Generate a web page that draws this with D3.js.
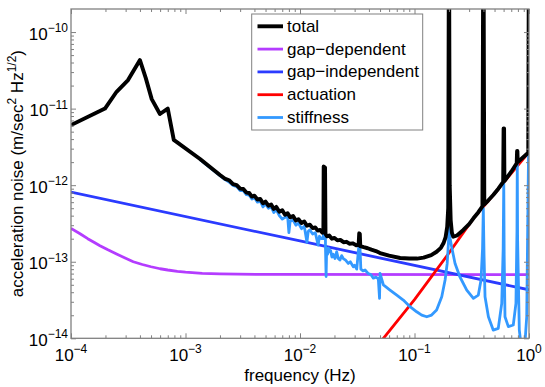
<!DOCTYPE html>
<html>
<head>
<meta charset="utf-8">
<script src="https://cdn.jsdelivr.net/npm/d3@7"></script>
<style>
body { margin: 0; background: #fff; }
svg { font-family: "Liberation Sans", Arial, Helvetica, sans-serif; }
</style>
</head>
<body>
<svg id="chart" width="545" height="387"></svg>
<script>
// total noise (black)
const totalF = [1e-4, 1.98e-4, 2.5e-4, 3.15e-4, 4.0e-4, 4.5e-4, 5.07e-4, 5.98e-4, 7.0e-4, 7.9e-4,
  1.34e-3, 2.0e-3, 2.2e-3, 2.4e-3, 2.6e-3, 2.8e-3, 3.0e-3, 3.2e-3, 3.4e-3, 3.6e-3, 3.8e-3,
  4.0e-3, 4.25e-3, 4.5e-3, 4.75e-3, 5.0e-3, 5.3e-3, 5.6e-3, 5.9e-3, 6.2e-3, 6.6e-3, 7.0e-3,
  7.4e-3, 7.8e-3, 8.2e-3, 8.7e-3, 9.2e-3, 9.7e-3, 1.03e-2, 1.09e-2, 1.15e-2, 1.22e-2, 1.29e-2,
  1.36e-2, 1.43e-2, 1.5e-2, 1.57e-2, 1.6e-2, 1.61e-2, 1.655e-2, 1.67e-2, 1.72e-2, 1.8e-2, 1.9e-2,
  2.0e-2, 2.12e-2, 2.25e-2, 2.4e-2, 2.55e-2, 2.7e-2, 2.9e-2, 3.1e-2, 3.25e-2, 3.29e-2, 3.33e-2,
  3.36e-2, 3.6e-2, 3.9e-2, 4.2e-2, 4.6e-2, 5.0e-2, 0.06, 0.075, 0.09, 0.105, 0.12, 0.14, 0.156,
  0.17, 0.179, 0.187, 0.193, 0.197, 0.1995, 0.2005, 0.203, 0.207, 0.212, 0.218, 0.235, 0.267,
  0.3, 0.327, 0.36, 0.392, 0.398, 0.401, 0.407, 0.44, 0.487, 0.54, 0.595, 0.6, 0.606, 0.61, 0.7,
  0.781, 0.787, 0.792, 0.797, 0.9, 0.985, 0.997];
const totalV = [6.1e-12, 1.0e-11, 1.66e-11, 2.36e-11, 4.3e-11, 2.5e-11, 1.33e-11, 8.5e-12, 1.0e-11, 3.9e-12,
  2.2e-12, 1.36e-12, 1.22e-12, 1.16e-12, 1.03e-12, 1.0e-12, 9.0e-13, 8.9e-13, 8.0e-13, 7.9e-13, 7.1e-13,
  7.3e-13, 6.5e-13, 6.6e-13, 5.8e-13, 6.1e-13, 5.4e-13, 5.6e-13, 4.9e-13, 5.2e-13, 4.5e-13, 4.7e-13,
  4.1e-13, 4.3e-13, 3.8e-13, 3.95e-13, 3.45e-13, 3.6e-13, 3.2e-13, 3.35e-13, 2.95e-13, 3.05e-13, 2.75e-13,
  2.8e-13, 2.55e-13, 2.6e-13, 2.4e-13, 2.45e-13, 1.75e-12, 1.7e-12, 2.3e-13, 2.15e-13, 2.2e-13, 2.0e-13,
  2.05e-13, 1.9e-13, 1.93e-13, 1.8e-13, 1.82e-13, 1.72e-13, 1.74e-13, 1.64e-13, 1.66e-13, 2.35e-13, 2.3e-13,
  1.6e-13, 1.55e-13, 1.5e-13, 1.44e-13, 1.38e-13, 1.3e-13, 1.2e-13, 1.12e-13, 1.1e-13, 1.1e-13, 1.13e-13, 1.22e-13, 1.35e-13,
  1.52e-13, 1.74e-13, 2.1e-13, 2.86e-13, 5e-13, 1e-9, 1e-9, 1e-12, 3.5e-13, 2.4e-13, 2.12e-13, 2.2e-13, 2.6e-13,
  3.1e-13, 3.69e-13, 4.4e-13, 5.3e-13, 1e-9, 1e-9, 5.6e-13, 6.3e-13, 7.43e-13, 9.0e-13, 1.1e-12, 5.5e-12, 5.5e-12, 1.13e-12, 1.5e-12,
  1.93e-12, 2.8e-12, 2.8e-12, 2.0e-12, 2.35e-12, 2.65e-12, 1e-9];

// stiffness (light blue)
const stiffF = [1.34e-3, 2.0e-3, 2.2e-3, 2.4e-3, 2.6e-3, 2.8e-3, 3.0e-3, 3.2e-3, 3.4e-3, 3.6e-3, 3.8e-3,
  4.0e-3, 4.25e-3, 4.5e-3, 4.75e-3, 5.0e-3, 5.3e-3, 5.6e-3, 5.9e-3, 6.2e-3, 6.6e-3, 7.0e-3, 7.4e-3,
  7.8e-3, 8.0e-3, 8.2e-3, 8.7e-3, 9.2e-3, 9.7e-3, 1.03e-2, 1.09e-2, 1.15e-2, 1.18e-2, 1.22e-2, 1.29e-2,
  1.36e-2, 1.44e-2, 1.48e-2, 1.54e-2, 1.6e-2, 1.61e-2, 1.655e-2, 1.67e-2, 1.69e-2, 1.71e-2, 1.74e-2, 1.77e-2,
  1.81e-2, 1.85e-2, 1.9e-2, 1.95e-2, 2.02e-2, 2.09e-2, 2.16e-2, 2.23e-2, 2.31e-2, 2.39e-2, 2.5e-2, 2.64e-2,
  2.75e-2, 2.92e-2, 3.0e-2, 3.13e-2, 3.29e-2, 3.33e-2, 3.4e-2, 3.55e-2, 3.7e-2, 3.95e-2, 4.15e-2, 4.37e-2,
  4.6e-2, 4.83e-2, 4.95e-2, 5.0e-2, 5.35e-2, 6.11e-2, 7.0e-2, 7.98e-2, 9.14e-2, 0.1045,
  0.1156, 0.128, 0.141, 0.156, 0.173, 0.185, 0.193, 0.198, 0.201, 0.205, 0.211, 0.226, 0.249, 0.286,
  0.327, 0.361, 0.381, 0.393, 0.399, 0.405, 0.413, 0.442, 0.487, 0.539, 0.578, 0.595, 0.602, 0.607,
  0.617, 0.66, 0.729, 0.769, 0.785, 0.79, 0.795, 0.823, 0.863, 0.913, 0.955, 0.99, 1.0];
const stiffV = [2.15e-12, 1.33e-12, 1.19e-12, 1.1e-12, 9.9e-13, 9.6e-13, 8.5e-13, 8.5e-13, 7.5e-13, 7.4e-13, 6.6e-13,
  6.9e-13, 6.0e-13, 6.2e-13, 5.2e-13, 5.7e-13, 5.0e-13, 5.2e-13, 4.4e-13, 4.8e-13, 4.0e-13, 3.6e-13, 3.8e-13,
  3.9e-13, 2.4e-13, 3.4e-13, 3.5e-13, 3.0e-13, 3.2e-13, 2.7e-13, 2.9e-13, 1.8e-13, 2.5e-13, 2.6e-13, 2.3e-13,
  2.4e-13, 1.65e-13, 2.15e-13, 2.0e-13, 2.0e-13, 1.6e-12, 1.5e-12, 1.5e-13, 6.4e-14, 1.5e-13, 1.25e-13, 1.5e-13,
  1.35e-13, 1.4e-13, 1.15e-13, 1.25e-13, 1.1e-13, 1.35e-13, 1.1e-13, 1.05e-13, 1.2e-13, 1.1e-13, 1.05e-13, 9.5e-14,
  1.0e-13, 8.6e-14, 9.0e-14, 8.0e-14, 1.82e-13, 1.75e-13, 8.0e-14, 7.6e-14, 7.8e-14, 7.0e-14, 6.8e-14, 6.1e-14,
  6.3e-14, 6.0e-14, 3.33e-14, 7.06e-14, 4.97e-14, 4.27e-14, 3.67e-14, 3.16e-14, 2.59e-14, 2.22e-14,
  2.01e-14, 1.91e-14, 2.01e-14, 2.34e-14, 3.49e-14, 5.77e-14, 9.5e-14, 1.8e-13, 2.86e-13, 2.0e-13, 1.57e-13, 9.5e-14, 6.37e-14, 4.27e-14,
  3.33e-14, 3.67e-14, 5.77e-14, 1.5e-13, 5.0e-13, 1.2e-13, 3.49e-14, 1.91e-14, 1.28e-14, 1.35e-14, 2.86e-14, 1.5e-13, 1.1e-12, 1.2e-13,
  1.91e-14, 1.42e-14, 1.49e-14, 2.86e-14, 2.5e-13, 1.9e-12, 2.0e-13, 1.28e-14, 7e-15, 7e-15, 1.91e-14, 2.35e-12, 3e-12];

// gap-dependent (purple)
const gapDepF = [1e-4, 1.2e-4, 1.4e-4, 1.6e-4, 1.79e-4, 2.1e-4, 2.5e-4, 3.0e-4, 3.5e-4, 4.2e-4,
  5e-4, 6e-4, 7e-4, 8.5e-4, 1e-3, 1.4e-3, 2e-3, 5e-3, 1];
const gapDepV = [2.73e-13, 2.32e-13, 2.0e-13, 1.78e-13, 1.62e-13, 1.43e-13, 1.26e-13, 1.11e-13, 1.0e-13, 9.2e-14,
  8.6e-14, 8.1e-14, 7.8e-14, 7.5e-14, 7.3e-14, 7.05e-14, 6.95e-14, 6.82e-14, 6.8e-14];

// gap-independent (blue)
const gapIndF = [1e-4, 1e-2, 1];
const gapIndV = [8.1e-13, 1.87e-13, 4.3e-14];

// actuation (red)
const actF = [0.05, 0.1, 0.2, 0.327, 0.487, 1];
const actV = [8.8e-15, 3.2e-14, 1.3e-13, 3.69e-13, 7.43e-13, 2.7e-12];

const xDecades = [1e-4, 1e-3, 1e-2, 1e-1, 1];
const xExp = ["\u22124", "\u22123", "\u22122", "\u22121", "0"];
const yDecades = [1e-14, 1e-13, 1e-12, 1e-11, 1e-10];
const yExp = ["\u221214", "\u221213", "\u221212", "\u221211", "\u221210"];

const legendNames = ["total", "gap\u2212dependent", "gap\u2212independent", "actuation", "stiffness"];
const colors = ["#000000", "#b43cff", "#2b3bff", "#ff0000", "#3399ff"];

const svg = d3.select("#chart");
const pLeft = 71, pRight = 529, pTop = 9, pBottom = 338.3;

const x = d3.scaleLog().domain([1e-4, 1]).range([pLeft, pRight]);
const y = d3.scaleLog().domain([1e-14, 2e-10]).range([pBottom, pTop]);

svg.append("clipPath").attr("id", "plotclip")
  .append("rect")
  .attr("x", pLeft).attr("y", pTop)
  .attr("width", pRight - pLeft).attr("height", pBottom - pTop);

const line = d3.line()
  .x(d => x(d[0]))
  .y(d => y(d[1]));

const plot = svg.append("g").attr("clip-path", "url(#plotclip)");

// drawn under the total curve
const series = [
  {F: gapDepF, V: gapDepV, color: colors[1], w: 2.8},
  {F: gapIndF, V: gapIndV, color: colors[2], w: 2.8},
  {F: actF, V: actV, color: colors[3], w: 2.8},
  {F: stiffF, V: stiffV, color: colors[4], w: 2.8},
  {F: totalF, V: totalV, color: colors[0], w: 3.9}
];

series.forEach(s => {
  plot.append("path")
    .datum(d3.zip(s.F, s.V))
    .attr("d", line)
    .attr("fill", "none")
    .attr("stroke", s.color)
    .attr("stroke-width", s.w)
    .attr("stroke-linejoin", "round");
});

// axes: box with inward ticks on all four sides
const axisColor = "#808080";
const isMajor = d => Math.abs(Math.log10(d) - Math.round(Math.log10(d))) < 1e-6;
const xt = x.ticks().filter(d => d >= 1e-4 && d <= 1);
const yt = y.ticks().filter(d => d >= 1e-14 && d < 1.9e-10);

function styleAxis(g, attr, sign) {
  g.select(".domain").remove();
  g.selectAll(".tick line")
    .attr(attr, d => sign * (isMajor(d) ? 5 : 3))
    .attr("stroke", axisColor);
}

svg.append("g").attr("transform", `translate(0,${pBottom})`)
  .call(d3.axisBottom(x).tickValues(xt).tickSize(0).tickFormat(""))
  .call(g => styleAxis(g, "y2", -1));
svg.append("g").attr("transform", `translate(0,${pTop})`)
  .call(d3.axisTop(x).tickValues(xt).tickSize(0).tickFormat(""))
  .call(g => styleAxis(g, "y2", 1));
svg.append("g").attr("transform", `translate(${pLeft},0)`)
  .call(d3.axisLeft(y).tickValues(yt).tickSize(0).tickFormat(""))
  .call(g => styleAxis(g, "x2", 1));
svg.append("g").attr("transform", `translate(${pRight},0)`)
  .call(d3.axisRight(y).tickValues(yt).tickSize(0).tickFormat(""))
  .call(g => styleAxis(g, "x2", -1));

svg.append("rect")
  .attr("x", pLeft).attr("y", pTop)
  .attr("width", pRight - pLeft).attr("height", pBottom - pTop)
  .attr("fill", "none")
  .attr("stroke", axisColor)
  .attr("stroke-width", 1.3);

// tick labels as 10^n
xDecades.forEach((d, i) => {
  const t = svg.append("text")
    .attr("x", x(d)).attr("y", 361)
    .attr("text-anchor", "middle")
    .attr("fill", "#000");
  t.append("tspan").attr("font-size", 17).text("10");
  t.append("tspan").attr("font-size", 12).attr("dy", -8).text(xExp[i]);
});

yDecades.forEach((d, i) => {
  const t = svg.append("text")
    .attr("x", 68).attr("y", y(d) + 7.6)
    .attr("text-anchor", "end")
    .attr("fill", "#000");
  t.append("tspan").attr("font-size", 17).text("10");
  t.append("tspan").attr("font-size", 12).attr("dy", -7.6).text(yExp[i]);
});

// axis titles
svg.append("text")
  .attr("x", (pLeft + pRight) / 2).attr("y", 380.5)
  .attr("text-anchor", "middle")
  .attr("font-size", 17)
  .text("frequency (Hz)");

const yl = svg.append("text")
  .attr("transform", `translate(23,${(pTop + pBottom) / 2}) rotate(-90)`)
  .attr("text-anchor", "middle")
  .attr("font-size", 17);
yl.append("tspan").text("acceleration noise (m/sec");
yl.append("tspan").attr("font-size", 12).attr("dy", -7).text("2");
yl.append("tspan").attr("dy", 7).text(" Hz");
yl.append("tspan").attr("font-size", 12).attr("dy", -7).text("1/2");
yl.append("tspan").attr("dy", 7).text(")");

// legend
const legend = svg.append("g");
legend.append("rect")
  .attr("x", 251.7).attr("y", 14)
  .attr("width", 171).attr("height", 116)
  .attr("fill", "#fff")
  .attr("stroke", axisColor)
  .attr("stroke-width", 1);

const rows = legend.selectAll("g.row")
  .data(legendNames)
  .enter()
  .append("g")
  .attr("class", "row")
  .attr("transform", (d, i) => `translate(0,${26.3 + i * 22.8})`);

rows.append("line")
  .attr("x1", 257.5).attr("x2", 283)
  .attr("stroke", (d, i) => colors[i])
  .attr("stroke-width", (d, i) => i === 0 ? 3.9 : 2.8);

rows.append("text")
  .attr("x", 287).attr("y", 0)
  .attr("dominant-baseline", "central")
  .attr("font-size", 17)
  .text(d => d);
</script>
</body>
</html>
